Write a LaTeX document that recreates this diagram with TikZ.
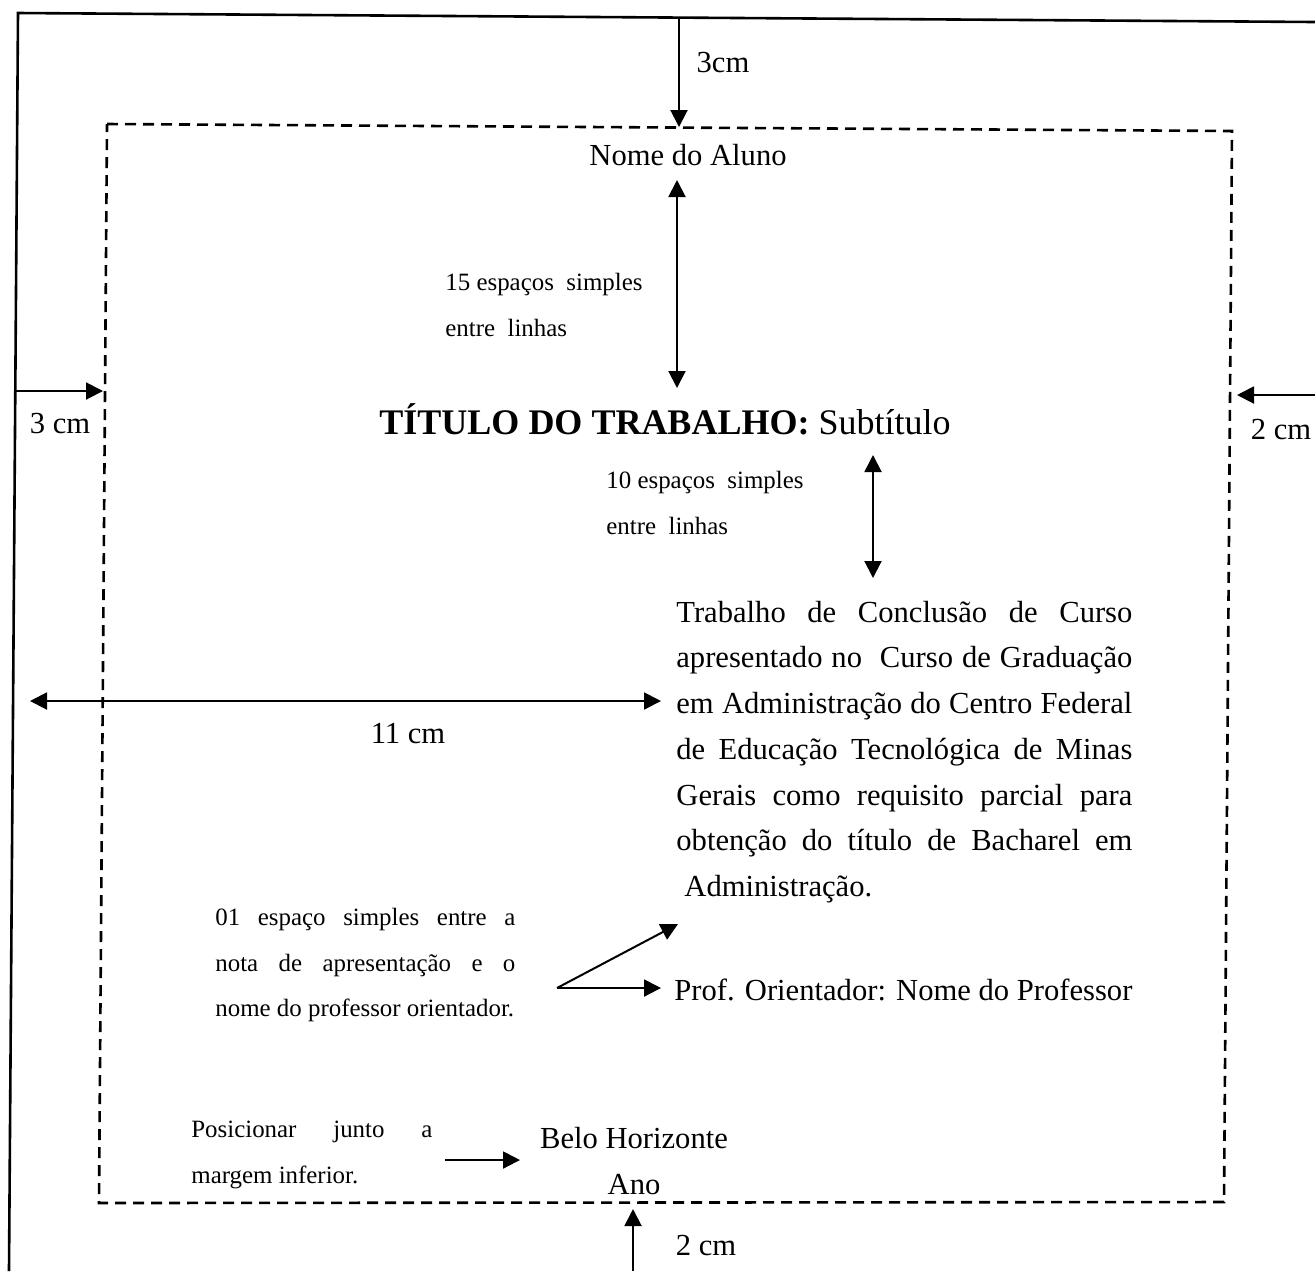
\documentclass[tikz,border=0pt]{standalone}
\usepackage{fontspec}
\setmainfont{Liberation Serif}
\usetikzlibrary{arrows.meta}
\newcommand{\linhaJust}[2]{\makebox[#1][s]{#2}}

\begin{document}
\begin{tikzpicture}[x = 0.5pt, y = -0.5pt,
    seta/.style = {-{Triangle[length=8.5pt, width=8.5pt]}, line width = 1pt},
    setadupla/.style = {{Triangle[length=8.5pt, width=8.5pt]}-{Triangle[length=8.5pt, width=8.5pt]}, line width = 1pt},
    texto/.style = {inner sep = 0pt, font = \fontsize{15.3}{22.85}\selectfont},
    nota/.style = {inner sep = 0pt, align = left, font = \fontsize{12.45}{22.75}\selectfont}]
    % Parametri
    \pgfmathsetmacro{\larg}{1315}
    \pgfmathsetmacro{\alt}{1271}
    \useasboundingbox (0,0) rectangle (\larg,\alt);
    % Folha
    \coordinate (fA) at (18,13);
    \coordinate (fB) at (\larg,22);
    \coordinate (fC) at (9,\alt);
    \draw[line width = 1.3pt] (fB) -- (fA) -- (fC);
    % Margens
    \coordinate (mA) at (107,124);
    \coordinate (mB) at (1232,131);
    \coordinate (mC) at (1224,1202);
    \coordinate (mD) at (99,1203);
    \draw[line width = 1.3pt, dash pattern = on 5.5pt off 3.5pt] (mA) -- (mB) -- (mC) -- (mD) -- cycle;
    % Margem superior
    \coordinate (sup1) at (679,18);
    \coordinate (sup2) at (679,127);
    \draw[seta] (sup1) -- (sup2);
    \node[texto] (cmSup) at (723,63) {3cm};
    % Margem esquerda
    \coordinate (esq1) at (15,391);
    \coordinate (esq2) at (103,391);
    \draw[seta] (esq1) -- (esq2);
    \node[texto] (cmEsq) at (60,424) {3 cm};
    % Margem direita
    \coordinate (dir1) at (\larg,395);
    \coordinate (dir2) at (1237,395);
    \draw[seta] (dir1) -- (dir2);
    \node[texto] (cmDir) at (1281,430) {2 cm};
    % Margem inferior
    \coordinate (inf1) at (633,\alt);
    \coordinate (inf2) at (633,1209);
    \draw[seta] (inf1) -- (inf2);
    \node[texto] (cmInf) at (706,1245) {2 cm};
    % Nome e titulo
    \node[texto] (aluno) at (688,155) {Nome do Aluno};
    \node[inner sep = 0pt, font = \fontsize{18}{22}\selectfont] (titulo) at (665,419) {\textbf{TÍTULO DO TRABALHO:} Subtítulo};
    \coordinate (e15a) at (677,180);
    \coordinate (e15b) at (677,388);
    \draw[setadupla] (e15a) -- (e15b);
    \node[nota, anchor = west] (esp15) at (445,305) {15 espaços \ simples\\entre \ linhas};
    \coordinate (e10a) at (873,455);
    \coordinate (e10b) at (873,578);
    \draw[setadupla] (e10a) -- (e10b);
    \node[nota, anchor = west] (esp10) at (606,503) {10 espaços \ simples\\entre \ linhas};
    % Nota de apresentacao
    \node[texto, align = left, anchor = west] (apresent) at (676,752) {%
        \linhaJust{228pt}{Trabalho de Conclusão de Curso}\\
        \linhaJust{228pt}{apresentado no \ Curso de Graduação}\\
        \linhaJust{228pt}{em Administração do Centro Federal}\\
        \linhaJust{228pt}{de Educação Tecnológica de Minas}\\
        \linhaJust{228pt}{Gerais como requisito parcial para}\\
        \linhaJust{228pt}{obtenção do título de Bacharel em}\\
        \hspace*{4pt}Administração.};
    \coordinate (c11a) at (30,701);
    \coordinate (c11b) at (661,701);
    \draw[setadupla] (c11a) -- (c11b);
    \node[texto] (cm11) at (408,734) {11 cm};
    % Orientador
    \node[texto, anchor = west] (orient) at (674,990) {Prof. Orientador: Nome do Professor};
    \node[nota, anchor = west] (esp01) at (215,965) {%
        \linhaJust{150pt}{01 espaço simples entre a}\\
        \linhaJust{150pt}{nota de apresentação e o}\\
        nome do professor orientador.};
    \coordinate (bif) at (557,988);
    \coordinate (bifA) at (678,924);
    \coordinate (bifB) at (661,988);
    \draw[seta] (bif) -- (bifA);
    \draw[seta] (bif) -- (bifB);
    % Local e ano
    \node[texto, align = center] (local) at (634,1161) {Belo Horizonte\\Ano};
    \node[nota, anchor = west] (posic) at (191,1155) {%
        \linhaJust{120.5pt}{Posicionar junto a}\\
        margem inferior.};
    \coordinate (pos1) at (445,1160);
    \coordinate (pos2) at (520,1160);
    \draw[seta] (pos1) -- (pos2);
\end{tikzpicture}
\end{document}
